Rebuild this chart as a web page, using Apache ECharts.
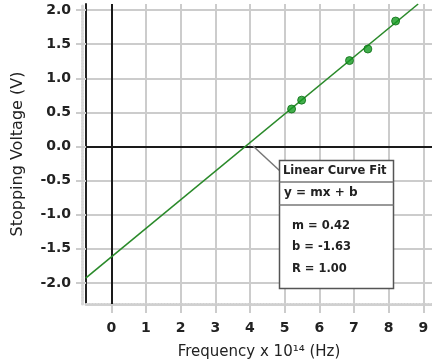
<!DOCTYPE html>
<html><head><meta charset="utf-8">
<script src="https://cdn.jsdelivr.net/npm/echarts@6/dist/echarts.min.js"></script>
<style>html,body{margin:0;padding:0;background:#fff}#c{width:432px;height:364px}</style>
</head><body><div id="c"></div>
<script>
// Data
const frequency = [5.20, 5.49, 6.87, 7.40, 8.20];     // x 10^14 Hz
const voltage   = [0.55, 0.68, 1.26, 1.43, 1.84];     // V
const fitX = [-0.74, 8.85];                             // fit line ends as drawn
const fitY = [-1.93, 2.09];
const xTicks = [0, 1, 2, 3, 4, 5, 6, 7, 8, 9];
const yTicks = [-2.0, -1.5, -1.0, -0.5, 0.0, 0.5, 1.0, 1.5, 2.0];
const fitText = { title: 'Linear Curve Fit', eq: 'y = mx + b', m: 'm = 0.42', b: 'b = -1.63', r: 'R = 1.00' };

const FONT = 'DejaVu Sans';
const TXT = '#222';
const GRID = '#cccccc';
const chart = echarts.init(document.getElementById('c'), null, {renderer: 'canvas'});

const pts = frequency.map((f, i) => [f, voltage[i]]);
const fit = fitX.map((x, i) => [x, fitY[i]]);

chart.setOption({
  animation: false,
  backgroundColor: '#fff',
  grid: {left: 86, right: 0, top: 4, bottom: 60, containLabel: false, outerBoundsMode: 'none'},
  xAxis: {
    type: 'value', min: -0.73, max: 9.25,
    name: 'Frequency x 10¹⁴ (Hz)', nameLocation: 'middle', nameGap: 41,
    nameTextStyle: {fontFamily: FONT, fontSize: 15, color: TXT},
    axisLine: {show: true, onZero: false, lineStyle: {color: '#d0d0d0', type: [1, 2], width: 3}},
    axisTick: {show: true, customValues: xTicks, length: 9, lineStyle: {color: GRID, width: 2}},
    axisLabel: {customValues: xTicks, margin: 17, fontFamily: FONT, fontSize: 14, fontWeight: 'bold', color: TXT, formatter: v => String(v)},
    splitLine: {show: true, lineStyle: {color: GRID, width: 2}}
  },
  yAxis: [{
    type: 'value', min: -2.31, max: 2.09,
    name: 'Stopping Voltage (V)', nameLocation: 'middle', nameGap: 60,
    nameTextStyle: {fontFamily: FONT, fontSize: 16, color: TXT},
    axisLine: {show: true, onZero: false, lineStyle: {color: '#222', width: 2}},
    axisTick: {show: true, customValues: yTicks, length: 10, lineStyle: {color: GRID, width: 2}},
    axisLabel: {customValues: yTicks, margin: 15, fontFamily: FONT, fontSize: 14, fontWeight: 'bold', color: TXT, formatter: v => v.toFixed(1)},
    splitLine: {show: true, lineStyle: {color: GRID, width: 2}}
  }, {
    type: 'value', min: -2.31, max: 2.09, position: 'left', offset: 4,
    axisLine: {show: true, onZero: false, lineStyle: {color: '#d8d8d8', type: [1, 2], width: 3}},
    axisTick: {show: false}, axisLabel: {show: false}, splitLine: {show: false}
  }],
  series: [{
    type: 'line', data: fit, symbol: 'none', silent: true, clip: true,
    lineStyle: {color: '#2a8a2a', width: 1.6}, z: 3,
    markLine: {
      silent: true, symbol: 'none', label: {show: false},
      lineStyle: {color: '#1a1a1a', width: 2, type: 'solid'},
      data: [{xAxis: 0}, {yAxis: 0}], z: 2
    }
  }, {
    type: 'scatter', data: pts, symbol: 'circle', symbolSize: 8, z: 4,
    itemStyle: {color: '#139a1f', borderColor: '#0d6e15', borderWidth: 1}
  }],
  graphic: [
    {type: 'line', shape: {x1: 253, y1: 146, x2: 280, y2: 171}, style: {stroke: '#777', lineWidth: 1.5}, z: 100},
    {type: 'rect', shape: {x: 279.5, y: 160.5, width: 114, height: 128}, style: {fill: '#fff', stroke: '#555', lineWidth: 1.5}, z: 101},
    {type: 'line', shape: {x1: 279.5, y1: 182, x2: 393.5, y2: 182}, style: {stroke: '#777', lineWidth: 1.5}, z: 102},
    {type: 'line', shape: {x1: 279.5, y1: 205, x2: 393.5, y2: 205}, style: {stroke: '#777', lineWidth: 1.5}, z: 102},
    {type: 'text', x: 283, y: 171, style: {text: fitText.title, font: 'bold 11.5px "DejaVu Sans"', fill: TXT, textVerticalAlign: 'middle'}, z: 103},
    {type: 'text', x: 284, y: 193, style: {text: fitText.eq, font: 'bold 12px "DejaVu Sans"', fill: TXT, textVerticalAlign: 'middle'}, z: 103},
    {type: 'text', x: 292, y: 226, style: {text: fitText.m, font: 'bold 11.5px "DejaVu Sans"', fill: TXT, textVerticalAlign: 'middle'}, z: 103},
    {type: 'text', x: 292, y: 247, style: {text: fitText.b, font: 'bold 11.5px "DejaVu Sans"', fill: TXT, textVerticalAlign: 'middle'}, z: 103},
    {type: 'text', x: 292, y: 269, style: {text: fitText.r, font: 'bold 11.5px "DejaVu Sans"', fill: TXT, textVerticalAlign: 'middle'}, z: 103}
  ]
});
</script></body></html>
